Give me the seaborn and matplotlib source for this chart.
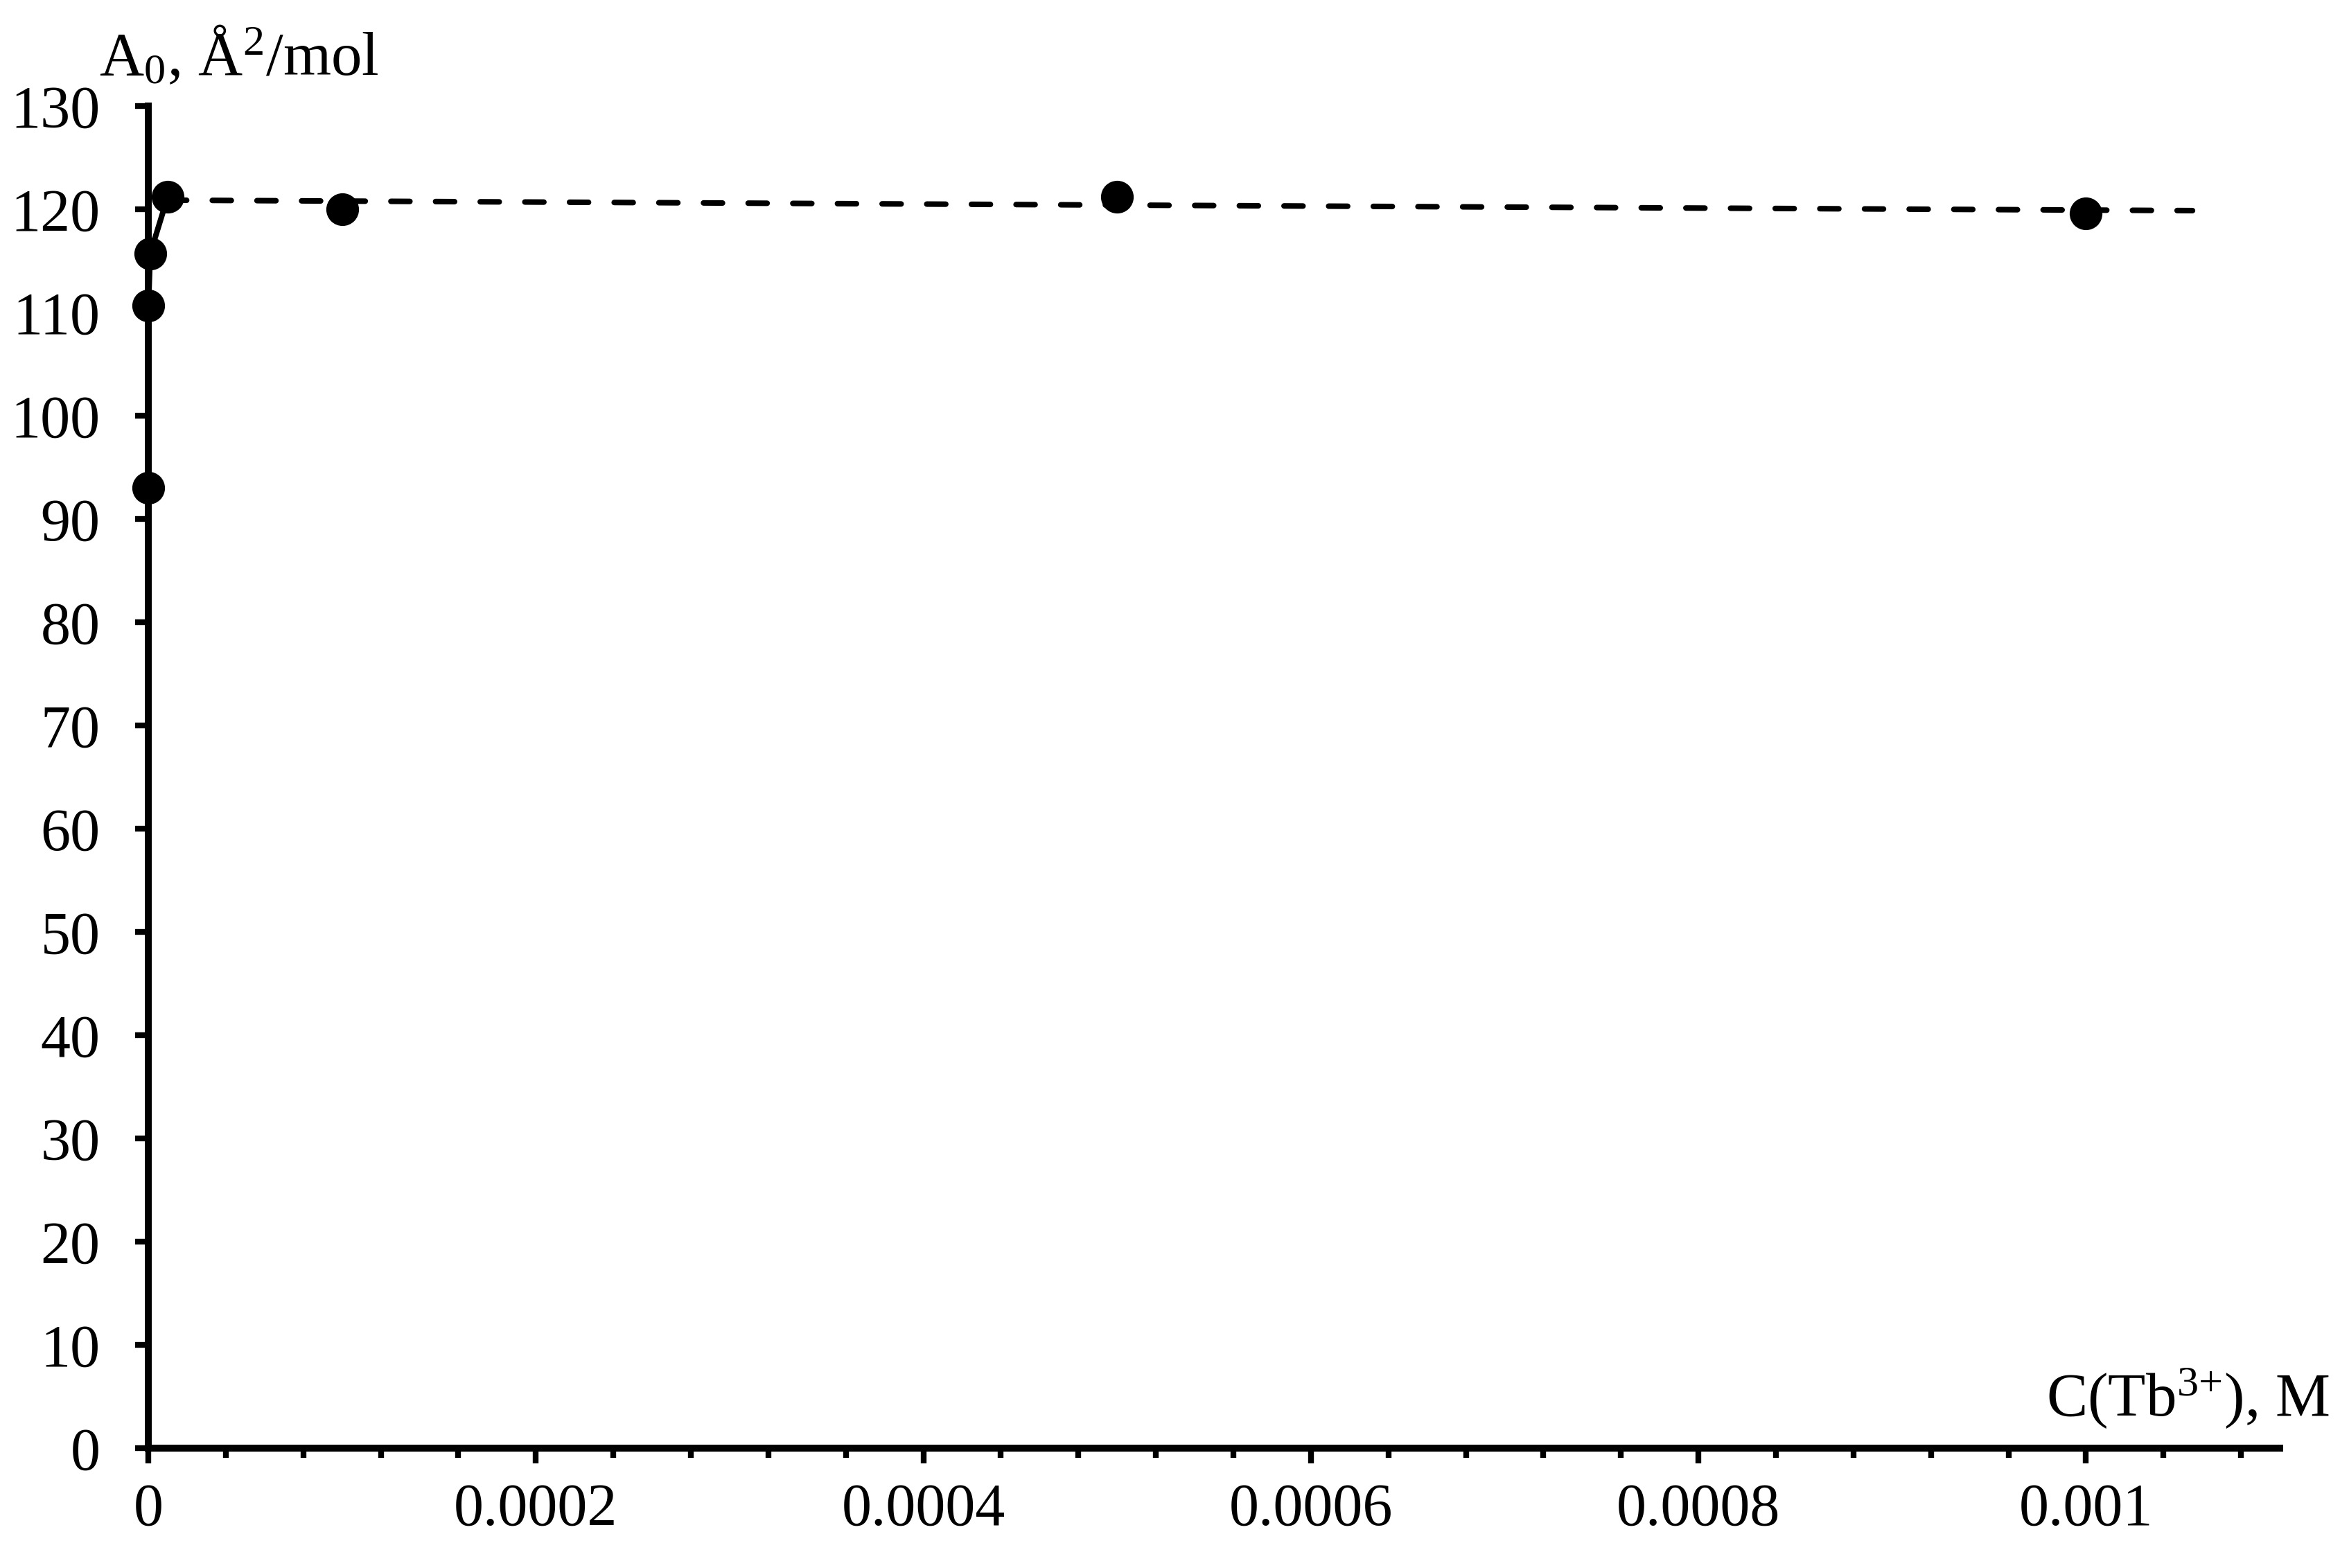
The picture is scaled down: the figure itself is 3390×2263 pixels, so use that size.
import numpy as np
import pandas as pd
import matplotlib
matplotlib.use("Agg")
import matplotlib.pyplot as plt
from matplotlib.ticker import MultipleLocator, FuncFormatter
import seaborn as sns

# data
conc = [1e-8, 1e-7, 1e-6, 1e-5, 1e-4, 5e-4, 1e-3]      # C(Tb3+), M
area = [93.0, 110.7, 115.7, 121.2, 120.0, 121.2, 119.6]  # A0, A^2/mol
n_rise = 4        # first points joined by a solid line
trend_end = 1.055e-3

df = pd.DataFrame({"conc": conc, "area": area})
rise = df.iloc[:n_rise]
plateau = df.iloc[n_rise - 1:]

# linear trend through the plateau points (Excel-like trendline)
k, b = np.polyfit(plateau["conc"], plateau["area"], 1)
trend = pd.DataFrame({"conc": [plateau["conc"].iloc[0], trend_end]})
trend["area"] = k * trend["conc"] + b

sns.set_style("ticks", {"axes.edgecolor": "black", "text.color": "black",
                        "xtick.color": "black", "ytick.color": "black",
                        "axes.labelcolor": "black"})
plt.rcParams["font.family"] = ["Liberation Serif", "DejaVu Serif"]
plt.rcParams["mathtext.fontset"] = "custom"
plt.rcParams["mathtext.rm"] = "Liberation Serif"
plt.rcParams["mathtext.it"] = "Liberation Serif:italic"

fig = plt.figure(figsize=(16.95, 11.315), dpi=200)
ax = fig.add_axes([214 / 3390, 1 - 2090 / 2263, (3290 - 214) / 3390, (2090 - 153) / 2263])

sns.lineplot(data=trend, x="conc", y="area", ax=ax, color="black", lw=2.9,
             dashes=False, linestyle=(0, (3.4, 4.6)), dash_capstyle="round", zorder=3)
sns.lineplot(data=rise, x="conc", y="area", ax=ax, color="black", lw=2.9,
             solid_capstyle="round", zorder=4, clip_on=False)
sns.scatterplot(data=df, x="conc", y="area", ax=ax, color="black", s=17 ** 2,
                edgecolor="black", linewidth=0, zorder=5, clip_on=False)

ax.set_xlim(0, 0.0011)
ax.set_ylim(0, 130)
ax.xaxis.set_major_locator(MultipleLocator(0.0002))
ax.xaxis.set_minor_locator(MultipleLocator(0.00004))
ax.yaxis.set_major_locator(MultipleLocator(10))
ax.xaxis.set_major_formatter(FuncFormatter(lambda v, p: f"{v:g}" if v > 1e-12 else "0"))
ax.set_xlabel("")
ax.set_ylabel("")

sns.despine(ax=ax)
for side in ["left", "bottom"]:
    ax.spines[side].set_linewidth(3.6)
    ax.spines[side].set_color("black")
    ax.spines[side].set_zorder(2)

ax.tick_params(axis="x", which="major", direction="out", length=8, width=3,
               labelsize=31, pad=10, colors="black")
ax.tick_params(axis="x", which="minor", direction="out", length=5, width=3,
               colors="black")
ax.tick_params(axis="y", which="major", direction="out", length=7, width=3,
               labelsize=31, pad=18, colors="black")

fig.text(143 / 3390, 1 - 108 / 2263, r"A$_0$, Å$^2$/mol", fontsize=32,
         ha="left", va="baseline", color="black")
fig.text(3362 / 3390, 1 - 2043 / 2263, r"C(Tb$^{3{+}}$), M", fontsize=32,
         ha="right", va="baseline", color="black")

fig.savefig("out.png", dpi=200, facecolor="white")
